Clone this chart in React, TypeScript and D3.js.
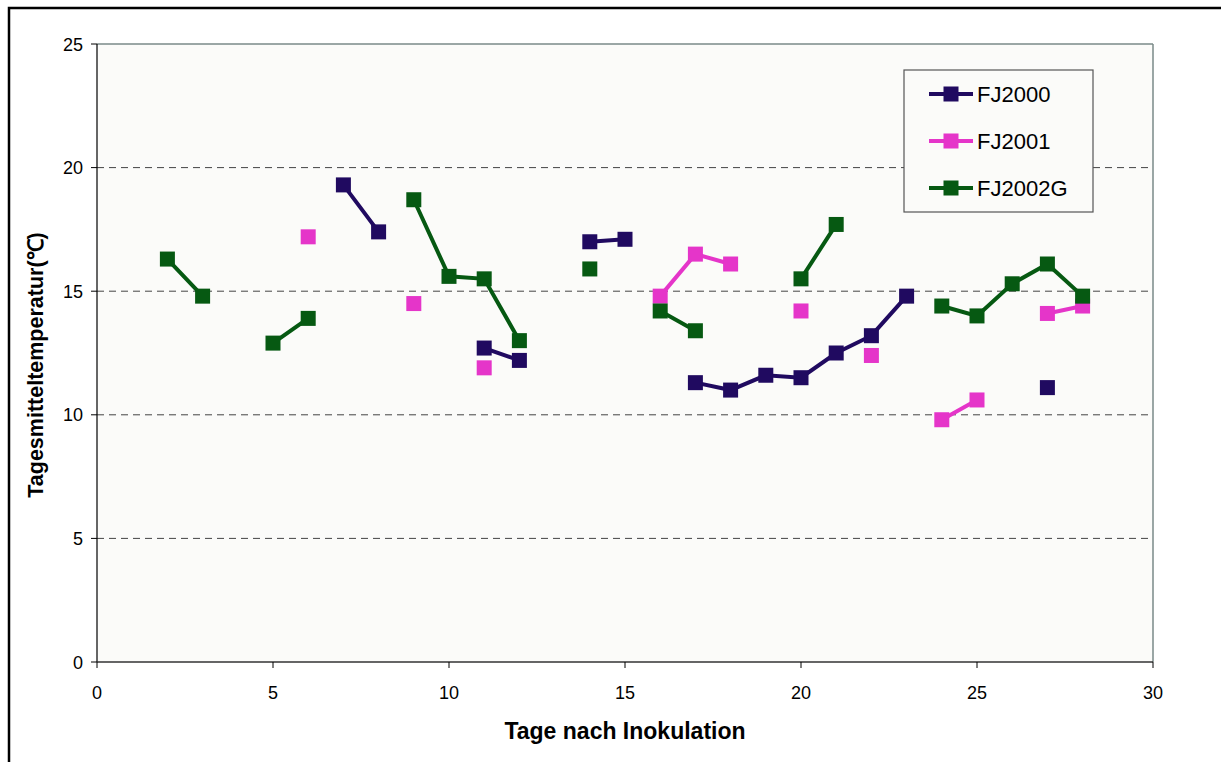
import React from "react";
import * as d3 from "d3";

const days: number[] = Array.from({ length: 27 }, (_, i) => i + 2); // 2..28
const xTicks = [0, 5, 10, 15, 20, 25, 30];
const yTicks = [0, 5, 10, 15, 20, 25];

// values indexed by day (null = missing)
const fj2000: Record<number, number> = {
  7: 19.3, 8: 17.4, 11: 12.7, 12: 12.2, 14: 17.0, 15: 17.1,
  17: 11.3, 18: 11.0, 19: 11.6, 20: 11.5, 21: 12.5, 22: 13.2, 23: 14.8, 27: 11.1,
};
const fj2001: Record<number, number> = {
  6: 17.2, 9: 14.5, 11: 11.9, 16: 14.8, 17: 16.5, 18: 16.1, 20: 14.2, 22: 12.4,
  24: 9.8, 25: 10.6, 27: 14.1, 28: 14.4,
};
const fj2002g: Record<number, number> = {
  2: 16.3, 3: 14.8, 5: 12.9, 6: 13.9, 9: 18.7, 10: 15.6, 11: 15.5, 12: 13.0,
  14: 15.9, 16: 14.2, 17: 13.4, 20: 15.5, 21: 17.7, 24: 14.4, 25: 14.0, 26: 15.3, 27: 16.1, 28: 14.8,
};

const seriesNames = ["FJ2000", "FJ2001", "FJ2002G"];
const seriesColors = ["#200A60", "#E535C9", "#065912"];
const seriesData = [fj2000, fj2001, fj2002g];

const W = 1221, H = 762;
const L = 97, R = 1153, T = 44, B = 662;

export default function App() {
  const x = d3.scaleLinear().domain([0, 30]).range([L, R]);
  const y = d3.scaleLinear().domain([0, 25]).range([B, T]);
  const font = "Liberation Sans, Arial, sans-serif";

  const series = seriesData.map((rec) =>
    days.map((d) => ({ d, v: rec[d] !== undefined ? rec[d] : null }))
  );
  const line = d3
    .line<{ d: number; v: number | null }>()
    .defined((p) => p.v !== null)
    .x((p) => x(p.d))
    .y((p) => y(p.v as number));

  const ms = 15;

  return (
    <svg width={W} height={H} style={{ position: "absolute", left: 0, top: 0 }}>
      <rect x={0} y={0} width={W} height={H} fill="#ffffff" />
      <rect x={9} y={8} width={W + 20} height={H + 20} fill="none" stroke="#000" strokeWidth={2.5} />
      <rect x={L} y={T} width={R - L} height={B - T} fill="#FBFBF9" />
      {/* grid lines */}
      {yTicks.filter((t) => t > 0 && t < 25).map((t) => (
        <line key={t} x1={L} x2={R} y1={y(t)} y2={y(t)} stroke="#444" strokeWidth={1} strokeDasharray="7,5" />
      ))}
      {/* plot border top/right */}
      <line x1={L} x2={R} y1={T} y2={T} stroke="#7A8A88" strokeWidth={1.5} />
      <line x1={R} x2={R} y1={T} y2={B} stroke="#7A8A88" strokeWidth={1.5} />
      {/* axes */}
      <line x1={L} x2={L} y1={T} y2={B} stroke="#000" strokeWidth={1.2} />
      <line x1={L} x2={R} y1={B} y2={B} stroke="#333" strokeWidth={1.5} />
      {yTicks.map((t) => (
        <g key={t}>
          <line x1={L - 6} x2={L} y1={y(t)} y2={y(t)} stroke="#000" strokeWidth={1} />
          <text x={L - 14} y={y(t) + 6.5} textAnchor="end" fontFamily={font} fontSize={18} fill="#000">{t}</text>
        </g>
      ))}
      {xTicks.map((t) => (
        <g key={t}>
          <line x1={x(t)} x2={x(t)} y1={B} y2={B + 6} stroke="#000" strokeWidth={1} />
          <text x={x(t)} y={B + 37} textAnchor="middle" fontFamily={font} fontSize={18} fill="#000">{t}</text>
        </g>
      ))}
      <text x={625} y={739} textAnchor="middle" fontFamily={font} fontSize={23} fontWeight="bold" fill="#000">
        Tage nach Inokulation
      </text>
      <text
        transform={`translate(43, ${(T + B) / 2 + 12}) rotate(-90)`}
        textAnchor="middle"
        fontFamily={font}
        fontSize={21.5}
        fontWeight="bold"
        fill="#000"
      >
        Tagesmitteltemperatur(℃)
      </text>
      {/* series */}
      {series.map((s, i) => (
        <g key={i}>
          <path d={line(s) || ""} fill="none" stroke={seriesColors[i]} strokeWidth={4} />
          {s.filter((p) => p.v !== null).map((p) => (
            <rect key={p.d} x={x(p.d) - ms / 2} y={y(p.v as number) - ms / 2} width={ms} height={ms} fill={seriesColors[i]} />
          ))}
        </g>
      ))}
      {/* legend */}
      <rect x={904} y={70} width={189} height={142} fill="#FBFBF9" stroke="#555" strokeWidth={1.2} />
      {seriesNames.map((n, i) => {
        const cy = 94 + i * 47;
        return (
          <g key={n}>
            <line x1={929} x2={973} y1={cy} y2={cy} stroke={seriesColors[i]} strokeWidth={4} />
            <rect x={951 - ms / 2} y={cy - ms / 2} width={ms} height={ms} fill={seriesColors[i]} />
            <text x={977} y={cy + 8} fontFamily={font} fontSize={22} fill="#000">{n}</text>
          </g>
        );
      })}
    </svg>
  );
}
